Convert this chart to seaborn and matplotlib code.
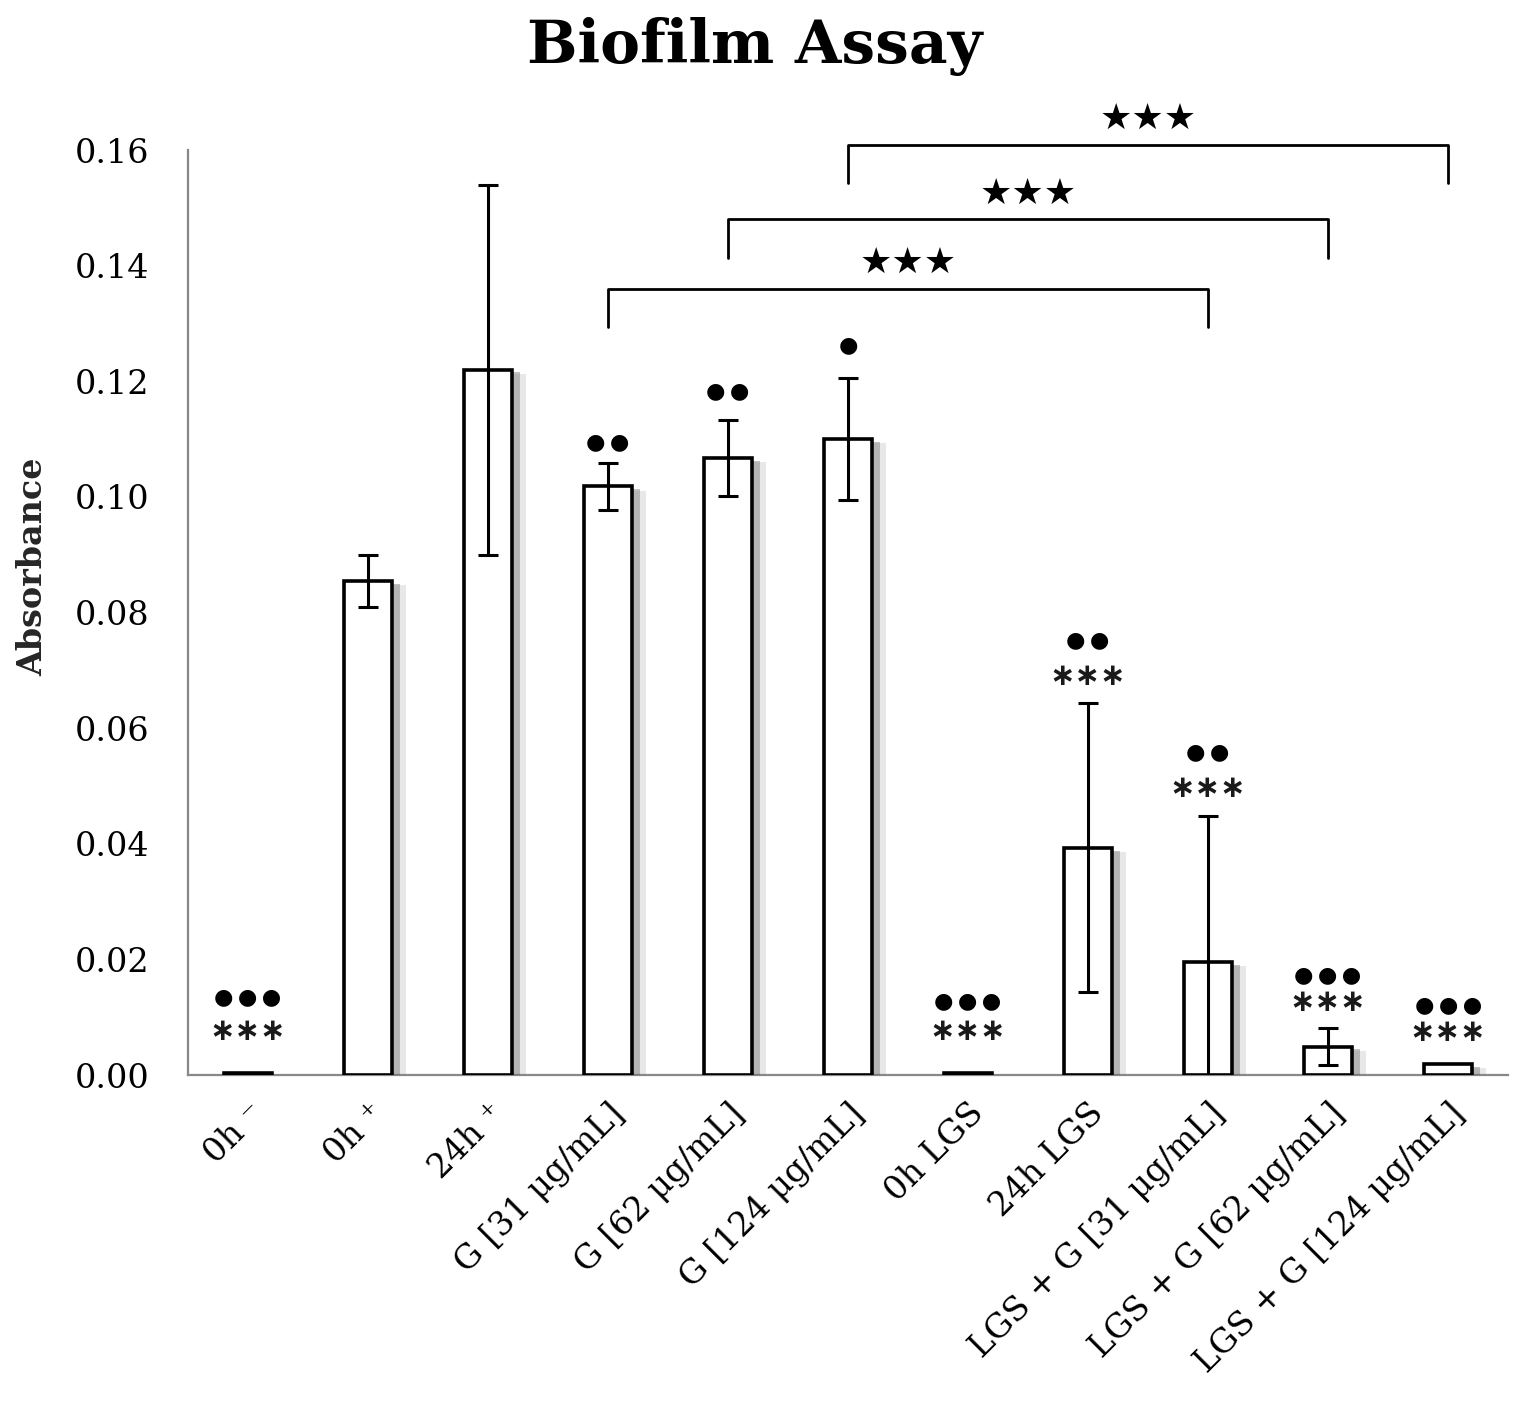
import matplotlib
matplotlib.use("Agg")
import matplotlib.pyplot as plt
import matplotlib.patheffects as pe
import numpy as np
import pandas as pd
import seaborn as sns

groups = [
    "0h \u207b", "0h \u207a", "24h \u207a",
    "G [31 \u03bcg/mL]", "G [62 \u03bcg/mL]", "G [124 \u03bcg/mL]",
    "0h LGS", "24h LGS",
    "LGS + G [31 \u03bcg/mL]", "LGS + G [62 \u03bcg/mL]", "LGS + G [124 \u03bcg/mL]",
]
absorbance = [0.0003, 0.0855, 0.122, 0.1018, 0.1067, 0.110, 0.0003, 0.0393, 0.0195, 0.0049, 0.0019]
sd = [0.0, 0.0045, 0.032, 0.004, 0.0066, 0.0105, 0.0, 0.025, 0.0253, 0.0032, 0.0]

# markers above bars: (index, number of dots, stars, dots_y, stars_y)
marks = [
    (0, 3, True, 0.0135, 0.0074),
    (3, 2, False, 0.1095, None),
    (4, 2, False, 0.1183, None),
    (5, 1, False, 0.1263, None),
    (6, 3, True, 0.0128, 0.0074),
    (7, 2, True, 0.0752, 0.0688),
    (8, 2, True, 0.0559, 0.0495),
    (9, 3, True, 0.0173, 0.0125),
    (10, 3, True, 0.0121, 0.0073),
]
# comparison brackets: (left, right, bar height, leg bottom)
brackets = [
    (3, 8, 0.136, 0.1294),
    (4, 9, 0.148, 0.1413),
    (5, 10, 0.1609, 0.1543),
]

df = pd.DataFrame({"group": groups, "absorbance": absorbance})

sns.set_style("white")
plt.rcParams["font.family"] = ["DejaVu Serif"]
plt.rcParams["text.color"] = "black"
plt.rcParams["xtick.color"] = "black"
plt.rcParams["ytick.color"] = "black"

fig = plt.figure(figsize=(15.19, 14.06), dpi=100)
ax = fig.add_axes([0.1238, 0.2354, 0.869, 0.6579])

sns.barplot(data=df, x="group", y="absorbance", color="white", edgecolor="black",
            linewidth=2.6, width=0.4, errorbar=None, ax=ax, zorder=3)
for p in ax.patches:
    p.set_path_effects([
        pe.SimplePatchShadow(offset=(10, -3), shadow_rgbFace="0.55", alpha=0.2),
        pe.SimplePatchShadow(offset=(6, -2), shadow_rgbFace="0.4", alpha=0.4),
        pe.Normal(),
    ])

x = np.arange(len(groups))
err_x = [i for i in x if sd[i] > 0]
ax.errorbar(err_x, [absorbance[i] for i in err_x], yerr=[sd[i] for i in err_x],
            fmt="none", ecolor="black", elinewidth=2.2, capsize=7, capthick=2.2, zorder=4)

for i, ndots, stars, ydot, ystar in marks:
    ax.text(i, ydot, "\u2009".join(["\u25cf"] * ndots), ha="center", va="center",
            fontsize=16, family="DejaVu Sans", color="black", clip_on=False)
    if stars:
        ax.text(i, ystar + 0.0006, "\u2217\u2217\u2217", ha="center", va="center_baseline",
                fontsize=22, family="DejaVu Sans", fontweight="bold", color="#1a1a1a",
                clip_on=False)

for a, b, yb, yl in brackets:
    ax.plot([a, a, b, b], [yl, yb, yb, yl], color="black", lw=2, clip_on=False, zorder=4)
    ax.text((a + b) / 2, yb + 0.0045, "\u2605\u2605\u2605", ha="center", va="center",
            fontsize=26, family="DejaVu Sans", color="black", clip_on=False)

ax.set_xlim(-0.5, len(groups) - 0.5)
ax.set_ylim(0, 0.16)
ticks = np.arange(0, 0.161, 0.02)
ax.set_yticks(ticks)
ax.set_yticklabels([f"{v:.2f}" for v in ticks], fontsize=24)
ax.set_xticks(x)
ax.set_xticklabels(groups, rotation=45, ha="right", rotation_mode="anchor", fontsize=24)
ax.set_xticks(np.arange(-0.5, len(groups), 1.0), minor=True)
ax.tick_params(axis="x", which="major", length=0, pad=16)
ax.tick_params(axis="x", which="minor", length=10, width=1.5, color="#888888", direction="out")
ax.tick_params(axis="y", length=10, width=1.5, color="#888888", direction="out", pad=18)
ax.set_xlabel("")
ax.set_ylabel("Absorbance", fontsize=24, fontweight="bold")
ax.yaxis.set_label_coords(-0.105, 0.55)

for side in ["top", "right"]:
    ax.spines[side].set_visible(False)
for side in ["left", "bottom"]:
    ax.spines[side].set_color("#888888")
    ax.spines[side].set_linewidth(1.6)

fig.suptitle("Biofilm Assay", fontsize=43, fontweight="bold", x=0.497, y=0.988, va="top")

fig.savefig("out.png", dpi=100)
